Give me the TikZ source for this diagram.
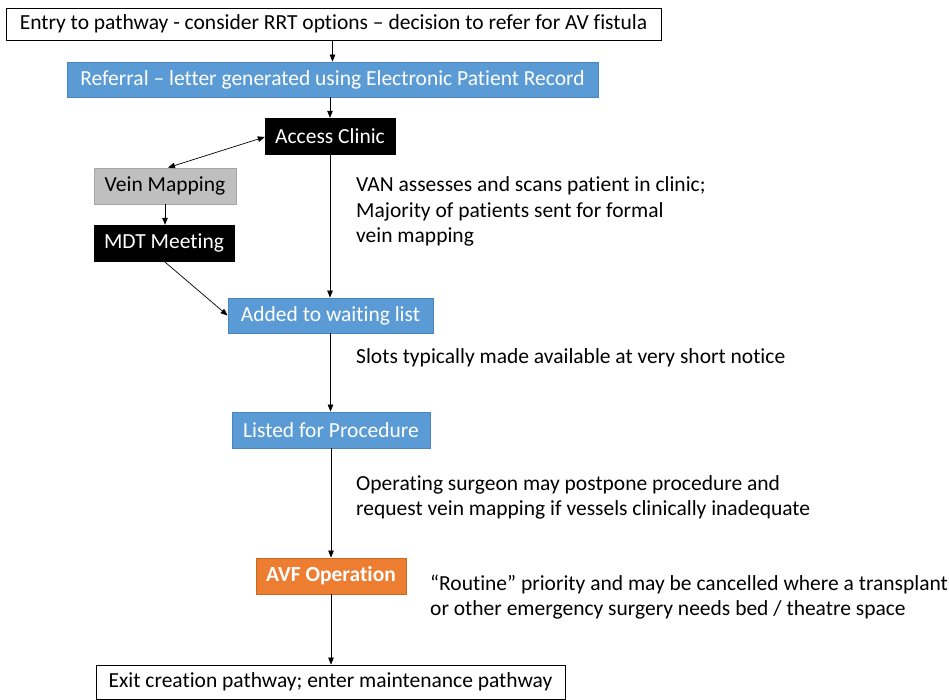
\documentclass[tikz,border=0pt]{standalone}
\usepackage{fontspec}
\setmainfont{Carlito}[Ligatures=NoCommon]
\usepackage{xcolor}
\usetikzlibrary{arrows.meta, positioning, calc}
\definecolor{refblue}{HTML}{5B9BD5}
\definecolor{refblueline}{HTML}{4A86BE}
\definecolor{refgray}{HTML}{BFBFBF}
\definecolor{refgrayline}{HTML}{A6A6A6}
\definecolor{reforange}{HTML}{ED7D31}
\definecolor{reforangeline}{HTML}{C9681F}

\begin{document}
\begin{tikzpicture}[x=1pt, y=-1pt, >={Triangle[length=7pt,width=5.5pt]},
  every node/.style={font=\fontsize{21.5}{25.5}\selectfont, inner sep=0pt},
  plainbox/.style={draw=black, fill=white, line width=0.8pt},
  bluebox/.style={draw=refblueline, fill=refblue, text=white, line width=0.8pt},
  blackbox/.style={draw=black, fill=black, text=white},
  graybox/.style={draw=refgrayline, fill=refgray, text=black, line width=0.8pt},
  orangebox/.style={draw=reforangeline, fill=reforange, text=white, line width=0.8pt, font=\fontsize{21.5}{25.5}\selectfont\bfseries},
  note/.style={anchor=west, align=left},
  link/.style={->, line width=0.7pt}]
  \useasboundingbox (0,0) rectangle (949,700);

  % Boxes
  \node[plainbox, minimum width=655pt, minimum height=32pt] (entry) at (333.5,24) {Entry to pathway - consider RRT options -- decision to refer for AV fistula};
  \node[bluebox, minimum width=531pt, minimum height=35pt] (referral) at (332.5,79.5) {Referral -- letter generated using Electronic Patient Record};
  \node[blackbox, minimum width=130pt, minimum height=36pt] (clinic) at (330,136) {Access Clinic};
  \node[graybox, minimum width=142pt, minimum height=36pt] (veinmap) at (165,186) {Vein Mapping};
  \node[blackbox, minimum width=140pt, minimum height=36pt] (mdt) at (164,243) {MDT Meeting};
  \node[bluebox, minimum width=205pt, minimum height=35pt] (waiting) at (330.5,315.5) {Added to waiting list};
  \node[bluebox, minimum width=198pt, minimum height=36pt] (listed) at (331,430) {Listed for Procedure};
  \node[orangebox, minimum width=150pt, minimum height=36pt] (avf) at (331,576) {AVF Operation};
  \node[plainbox, minimum width=469pt, minimum height=34pt] (exit) at (330.5,682) {Exit creation pathway; enter maintenance pathway};

  % Notes
  \node[note] (vannote) at (356,211.5) {VAN assesses and scans patient in clinic;\\Majority of patients sent for formal\\vein mapping};
  \node[note] (slotnote) at (356,358) {Slots typically made available at very short notice};
  \node[note] (surgnote) at (356,497.5) {Operating surgeon may postpone procedure and\\request vein mapping if vessels clinically inadequate};
  \node[note] (routnote) at (430,597) {``Routine'' priority and may be cancelled where a transplant\\or other emergency surgery needs bed / theatre space};

  % Connectors
  \draw[link] (entry.south -| referral.north) -- (referral.north);
  \draw[link] (referral.south -| clinic.north) -- (clinic.north);
  \draw[link, <->] ($(clinic.west)+(0,1)$) -- ($(veinmap.north)+(3,0)$);
  \draw[link] (veinmap.south) -- (veinmap.south |- mdt.north);
  \draw[link] (mdt.south) -- (waiting.west);
  \draw[link] (clinic.south) -- (clinic.south |- waiting.north);
  \draw[link] (waiting.south) -- (waiting.south |- listed.north);
  \draw[link] (listed.south) -- (listed.south |- avf.north);
  \draw[link] (avf.south) -- (avf.south |- exit.north);
\end{tikzpicture}
\end{document}
